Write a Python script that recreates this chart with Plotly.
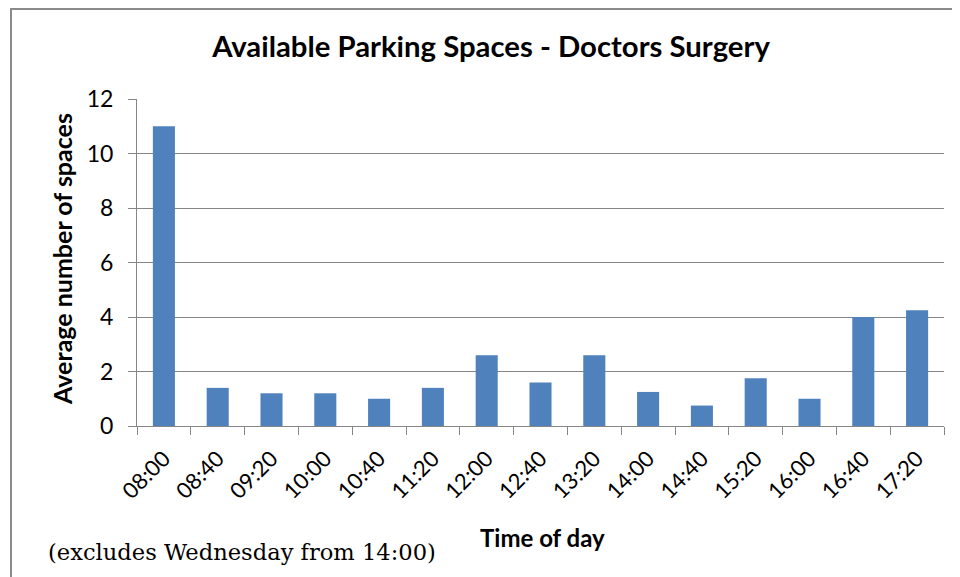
import plotly.graph_objects as go

times = ["08:00", "08:40", "09:20", "10:00", "10:40", "11:20", "12:00", "12:40",
         "13:20", "14:00", "14:40", "15:20", "16:00", "16:40", "17:20"]
avg_spaces = [11, 1.4, 1.2, 1.2, 1.0, 1.4, 2.6, 1.6, 2.6, 1.25, 0.75, 1.75, 1.0, 4.0, 4.25]
y_ticks = [0, 2, 4, 6, 8, 10, 12]

OFF = 8  # page body margin
W, H = 960 - OFF, 577 - OFF
L, R, T, B = 137 - OFF, 944 - OFF, 99 - OFF, 426 - OFF
grey = "#868686"

def px_x(px):
    return (px - OFF - L) / (R - L)

def px_y(py):
    return (B - (py - OFF)) / (B - T)

fig = go.Figure()
fig.add_trace(go.Bar(x=times, y=avg_spaces, marker=dict(color="#4F81BD", line=dict(width=0)),
                     hoverinfo="x+y"))

fig.update_layout(
    width=W, height=H,
    margin=dict(l=L, r=W - R, t=T, b=H - B),
    paper_bgcolor="white", plot_bgcolor="white",
    bargap=0.59,
    showlegend=False,
    font=dict(family="Lato", color="#000000"),
    title=dict(text="<b>Available Parking Spaces - Doctors Surgery</b>",
               x=(491 - OFF) / W, xref="container", xanchor="center",
               y=1 - (47 - OFF) / H, yref="container", yanchor="middle",
               font=dict(family="Lato", size=29.3, color="#000000")),
    xaxis=dict(type="category", tickangle=-45, tickson="boundaries",
               ticks="outside", ticklen=8, tickcolor=grey, tickwidth=1,
               showline=True, linecolor=grey, linewidth=1, ticklabelstandoff=10,
               showgrid=False, tickfont=dict(family="Lato", size=22, color="#000000")),
    yaxis=dict(range=[0, 12], tickvals=y_ticks, ticks="outside", ticklen=8,
               tickcolor=grey, showline=True, linecolor=grey, linewidth=1,
               showgrid=True, gridcolor=grey, gridwidth=1, zeroline=False,
               tickfont=dict(family="Lato", size=23, color="#000000"), ticklabelstandoff=10),
    shapes=[dict(type="rect", xref="paper", yref="paper",
                 x0=px_x(11), x1=px_x(975), y0=px_y(600), y1=px_y(9),
                 line=dict(color="#8a8a8a", width=2), fillcolor="rgba(0,0,0,0)", layer="below")],
    annotations=[
        dict(text="<b>Average number of spaces</b>", textangle=-90, showarrow=False,
             xref="paper", yref="paper", x=px_x(62), y=px_y(259),
             xanchor="center", yanchor="middle",
             font=dict(family="Lato", size=25, color="#000000")),
        dict(text="<b>Time of day</b>", showarrow=False,
             xref="paper", yref="paper", x=px_x(542), y=px_y(537),
             xanchor="center", yanchor="middle",
             font=dict(family="Lato", size=24, color="#000000")),
        dict(text="(excludes Wednesday from 14:00)", showarrow=False,
             xref="paper", yref="paper", x=px_x(46), y=px_y(552),
             xanchor="left", yanchor="middle",
             font=dict(family="DejaVu Serif", size=22.6, color="#000000")),
    ],
)

fig.write_html("out.html")
